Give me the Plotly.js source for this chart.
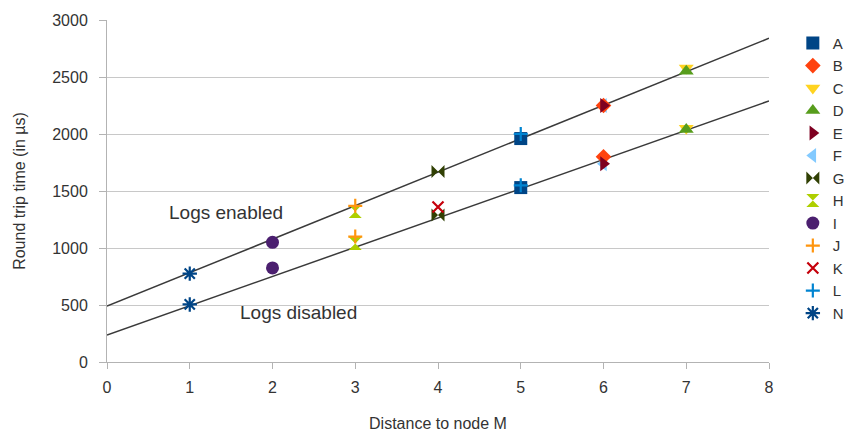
<!DOCTYPE html>
<html><head><meta charset="utf-8">
<script src="https://cdn.plot.ly/plotly-3.0.1.min.js"></script>
<style>body{margin:0;background:#fff}#c{width:848px;height:432px}</style>
</head><body><div id="c"></div>
<script>
// Series: name, hop distance, RTT (logs enabled), RTT (logs disabled)
const names   = ["A","B","C","D","E","F","G","H","I","J","K","L","N"];
const hops    = [5, 6, 7, 7, 6, 6, 4, 3, 2, 3, 4, 5, 1];
const rttOn   = [1960, 2250, 2580, 2550, 2250, 2250, 1670, 1320, 1050, 1370, null, 2000, 775];
const rttOff  = [1530, 1800, 2050, 2040, 1740, 1740, 1290, 1040, 825, 1100, 1360, 1550, 505];
const colors  = ["#004586","#ff420e","#ffd320","#579d1c","#7e0021","#83caff","#314004","#aecf00","#4b1f6f","#ff950e","#c5000b","#0084d1","#004586"];
const symbols = ["square","diamond","triangle-down","triangle-up","triangle-right","triangle-left","bowtie","hourglass","circle","cross-thin-open","x-thin-open","cross-thin-open","asterisk-open"];
const sizes   = [13,12,13,13,13,13,13,13,13,10,11,10,12];
// Trend lines
const trendX      = [0, 8];
const trendOn     = [490, 2840];
const trendOff    = [237, 2290];
// Axis ticks
const yTicks = [0,500,1000,1500,2000,2500,3000];
const xTicks = [0,1,2,3,4,5,6,7,8];

const traces = [];
traces.push({x: trendX, y: trendOn, mode:"lines", line:{color:"#3a3a3a", width:1.5}, showlegend:false, hoverinfo:"skip"});
traces.push({x: trendX, y: trendOff, mode:"lines", line:{color:"#3a3a3a", width:1.5}, showlegend:false, hoverinfo:"skip"});
const order = [5,0,1,2,3,4,6,7,8,9,10,11,12];
order.forEach(i=>{
  const thin = symbols[i].indexOf("thin")>=0 || symbols[i].indexOf("asterisk")>=0;
  const ys=[], xs=[];
  if (rttOn[i]!==null){xs.push(hops[i]); ys.push(rttOn[i]);}
  if (rttOff[i]!==null){xs.push(hops[i]); ys.push(rttOff[i]);}
  traces.push({
    x: xs, y: ys, name: names[i], mode:"markers",
    legendrank: i+1,
    marker:{symbol:symbols[i], color:colors[i], size:sizes[i],
      line: thin ? {color:colors[i], width:2.2} : {width:0}}
  });
});

const layout = {
  width:848, height:432,
  margin:{l:107, r:79, t:20, b:70, autoexpand:false},
  paper_bgcolor:"#fff", plot_bgcolor:"#fff",
  font:{family:"Liberation Sans, Arial, sans-serif", color:"#333", size:15},
  xaxis:{range:[0,8], tickvals:xTicks, showgrid:false, zeroline:false,
    showline:true, linecolor:"#b3b3b3", linewidth:1, ticks:"outside", ticklen:6, tickcolor:"#b3b3b3",
    ticklabelstandoff:5,
    tickfont:{size:16, color:"#333"},
    title:{text:"Distance to node M", font:{size:16, color:"#333"}, standoff:24}},
  yaxis:{range:[0,3000], tickvals:yTicks, showgrid:true, gridcolor:"#c8c8c8", gridwidth:1, zeroline:false,
    showline:true, linecolor:"#b3b3b3", linewidth:1, ticks:"outside", ticklen:7, tickcolor:"#b3b3b3",
    ticklabelstandoff:8,
    tickfont:{size:16, color:"#333"},
    title:{text:"Round trip time (in µs)", font:{size:16, color:"#333"}, standoff:22}},
  legend:{x:1.036, y:0.98, xanchor:"left", yanchor:"top", font:{size:15, color:"#333"},
    itemwidth:30, tracegroupgap:0, bgcolor:"rgba(0,0,0,0)"},
  annotations:[
    {x:1.44, y:1310, text:"Logs enabled", showarrow:false, font:{size:19, color:"#333"}},
    {x:2.31, y:430, text:"Logs disabled", showarrow:false, font:{size:19, color:"#333"}}
  ]
};
Plotly.newPlot("c", traces, layout, {staticPlot:true, displayModeBar:false});
</script>
</body></html>
